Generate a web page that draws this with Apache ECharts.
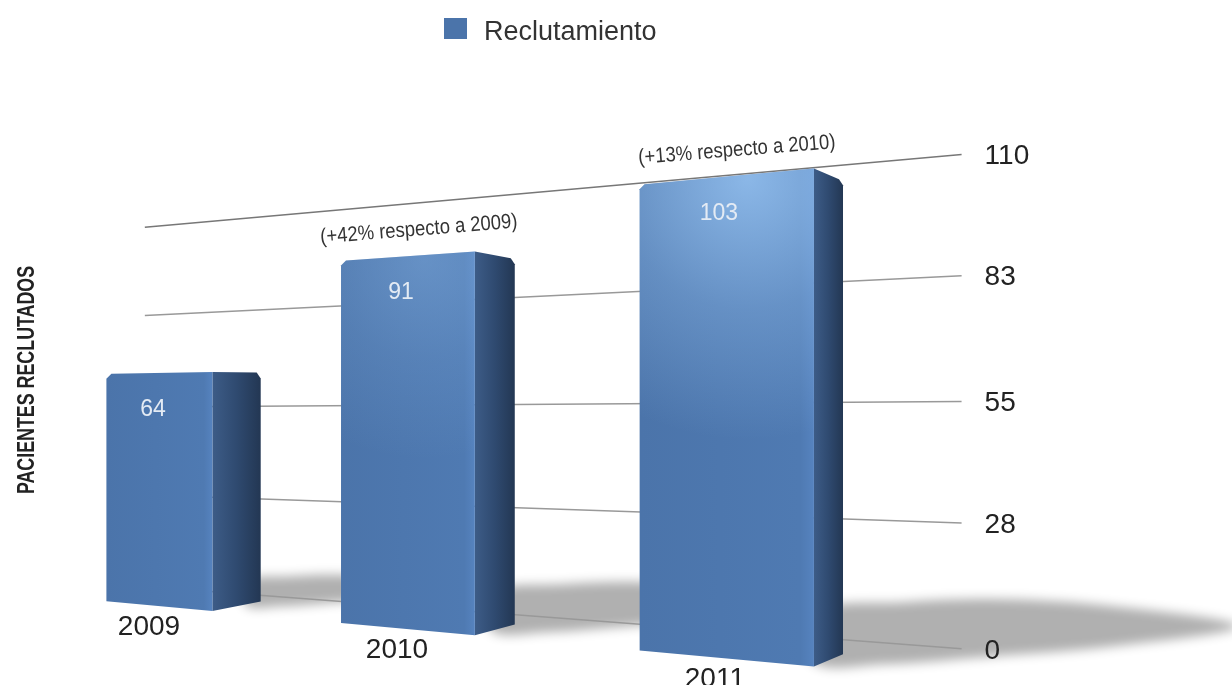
<!DOCTYPE html>
<html>
<head>
<meta charset="utf-8">
<title>Reclutamiento</title>
<script src="https://cdn.jsdelivr.net/npm/echarts@6/dist/echarts.min.js"></script>
<style>
  html, body { margin: 0; padding: 0; background: #fff; }
  #chart { width: 1232px; height: 685px; filter: blur(0.5px); }
</style>
</head>
<body>
<div id="chart"></div>
<script>
const years = ["2009", "2010", "2011"];
const recruited = [64, 91, 103];
const notes = ["", "(+42% respecto a 2009)", "(+13% respecto a 2010)"];
const tickValues = [0, 28, 55, 83, 110];

const seriesName = "Reclutamiento";
const axisTitle = "PACIENTES RECLUTADOS";
const font = "'Liberation Sans', Arial, sans-serif";

// perspective of the scene, fitted on the picture
const persp = { a: 203.3, b: 158, c: 0.11, horizon: 421, floor: 185, unit: 3.65 };
const wallFrom = -0.06, wallTo = 2.6;
const halfBar = 0.24;

function scaleAt(u) { return 1 / (1 - persp.c * u); }
function frontX(u) { return (persp.a * u + persp.b) * scaleAt(u); }
function front(u, v) {
  return [frontX(u), persp.horizon + scaleAt(u) * (persp.floor - v * persp.unit)];
}
function wall(u, v) {
  const depth = 0.9 - 0.008 * u;
  return [frontX(u), persp.horizon + scaleAt(u) * depth * (persp.floor - v * persp.unit)];
}
function back(p) {
  return [p[0] + 0.032 * (1722 - p[0]), persp.horizon + 0.95 * (p[1] - persp.horizon)];
}
// reads category index and value back through the axes
function uv(api, cat, val) {
  const o = api.coord([0, 0]);
  const p = api.coord([cat, val]);
  return [(p[0] - o[0]) / api.size([1, 0])[0], (o[1] - p[1]) / api.size([0, 1])[1]];
}

function renderShadow(params, api) {
  const q = uv(api, api.value(0), api.value(1));
  const base = back(front(q[0] + halfBar, 0));
  const s = q[1] * scaleAt(q[0]) / 132;
  const outline = [[-30, 8], [-30, -42], [60, -52], [160, -55], [270, -48], [395, -28], [270, -8], [150, 2], [40, 10]];
  // shape sits off canvas, only its blurred shadow lands on the floor
  const off = 3000;
  return {
    type: "polygon",
    shape: { points: outline.map(d => [base[0] + d[0] * s - off, base[1] + d[1] * s]), smooth: 0.35 },
    style: { fill: "#b0b0b0", shadowBlur: 11, shadowColor: "#b0b0b0", shadowOffsetX: off }
  };
}

function renderGrid(params, api) {
  const q = uv(api, 0, api.value(1));
  const a = wall(wallFrom, q[1]);
  const b = wall(wallTo, q[1]);
  return {
    type: "group",
    children: [
      {
        type: "line",
        shape: { x1: a[0], y1: a[1], x2: b[0], y2: b[1] },
        style: { stroke: q[1] === 110 ? "#777" : "#999", lineWidth: 1.5 }
      },
      {
        type: "text",
        style: {
          text: String(api.value(1)), x: b[0] + 23, y: b[1] + 2,
          font: "28px " + font, fill: "#222", align: "left", verticalAlign: "middle"
        }
      }
    ]
  };
}

function renderBar(params, api) {
  const q = uv(api, api.value(0), api.value(1));
  const u = q[0], v = q[1];
  const tl = front(u - halfBar, v), tr = front(u + halfBar, v);
  const bl = front(u - halfBar, 0), br = front(u + halfBar, 0);
  const btr = back(tr), bbr = back(br);
  const top = front(u, v);
  const glow = Math.pow((v - 64) / 39, 2.5) * 0.7;
  const frontShape = [[tl[0], tl[1] + 5], [tl[0] + 5, tl[1]], [tr[0], tr[1] + 1], br, bl];
  return {
    type: "group",
    children: [
      {
        type: "polygon",
        shape: { points: [[tr[0], tr[1] + 1], [btr[0] - 4, btr[1] - 1], [btr[0], btr[1] + 5], bbr, br] },
        style: {
          fill: {
            type: "linear", x: 0, y: 0, x2: 1, y2: 0,
            colorStops: [{ offset: 0, color: "#3d5c87" }, { offset: 0.5, color: "#2f4a70" }, { offset: 1, color: "#233753" }]
          }
        }
      },
      {
        type: "polygon",
        shape: { points: frontShape },
        style: {
          fill: {
            type: "linear", x: 0, y: 0, x2: 1, y2: 0,
            colorStops: [{ offset: 0, color: "#4b74aa" }, { offset: 0.92, color: "#4f7ab2" }, { offset: 1, color: "#5683bf" }]
          }
        }
      },
      {
        type: "polygon",
        shape: { points: frontShape },
        style: {
          fill: {
            type: "radial", x: 0.62, y: 0.02, r: 1.5,
            colorStops: [
              { offset: 0, color: "rgba(165,210,255," + glow + ")" },
              { offset: 0.5, color: "rgba(165,210,255," + glow * 0.4 + ")" },
              { offset: 1, color: "rgba(165,210,255,0)" }
            ]
          }
        }
      },
      {
        type: "text",
        style: {
          text: String(v), x: top[0] - 5, y: top[1] + 37,
          font: "23px " + font, fill: "#e4ebf4", align: "center", verticalAlign: "middle"
        }
      },
      {
        type: "text",
        style: {
          text: years[api.value(0)], x: top[0] - 9, y: (bl[1] + br[1]) / 2 + 21,
          font: "28px " + font, fill: "#222", align: "center", verticalAlign: "middle"
        }
      },
      {
        type: "text",
        x: top[0] + 13, y: top[1] - 26, rotation: 0.08, scaleX: 0.88,
        style: {
          text: notes[api.value(0)], x: 0, y: 0,
          font: "21px " + font, fill: "#333", align: "center", verticalAlign: "middle"
        }
      }
    ]
  };
}

const barData = recruited.map((v, i) => [i, v]);

const chart = echarts.init(document.getElementById("chart"));
chart.setOption({
  animation: false,
  backgroundColor: "#fff",
  legend: {
    data: [seriesName],
    left: 439,
    top: 13,
    itemWidth: 23,
    itemHeight: 29,
    // empty point at the bottom keeps the square above the text's centre
    icon: "path://M0,0H23V21H0Z M0,29L0,29",
    textStyle: { fontFamily: font, fontSize: 27, color: "#333", padding: [0, 0, 0, 12] }
  },
  grid: { left: 100, right: 100, top: 100, bottom: 25 },
  xAxis: { type: "category", data: years, show: false },
  yAxis: { type: "value", min: 0, max: 110, show: false },
  graphic: [
    {
      type: "text",
      x: 27, y: 380, rotation: Math.PI / 2, scaleX: 0.743,
      style: {
        text: axisTitle,
        font: "bold 24px " + font,
        fill: "#222", align: "center", verticalAlign: "middle"
      }
    }
  ],
  series: [
    { type: "custom", silent: true, z: 1, data: barData, renderItem: renderShadow },
    { type: "custom", silent: true, z: 2, data: tickValues.map(v => [0, v]), renderItem: renderGrid },
    {
      type: "custom", name: seriesName, z: 3, data: barData, renderItem: renderBar,
      itemStyle: { color: "#4b74aa" }
    }
  ]
});
</script>
</body>
</html>
